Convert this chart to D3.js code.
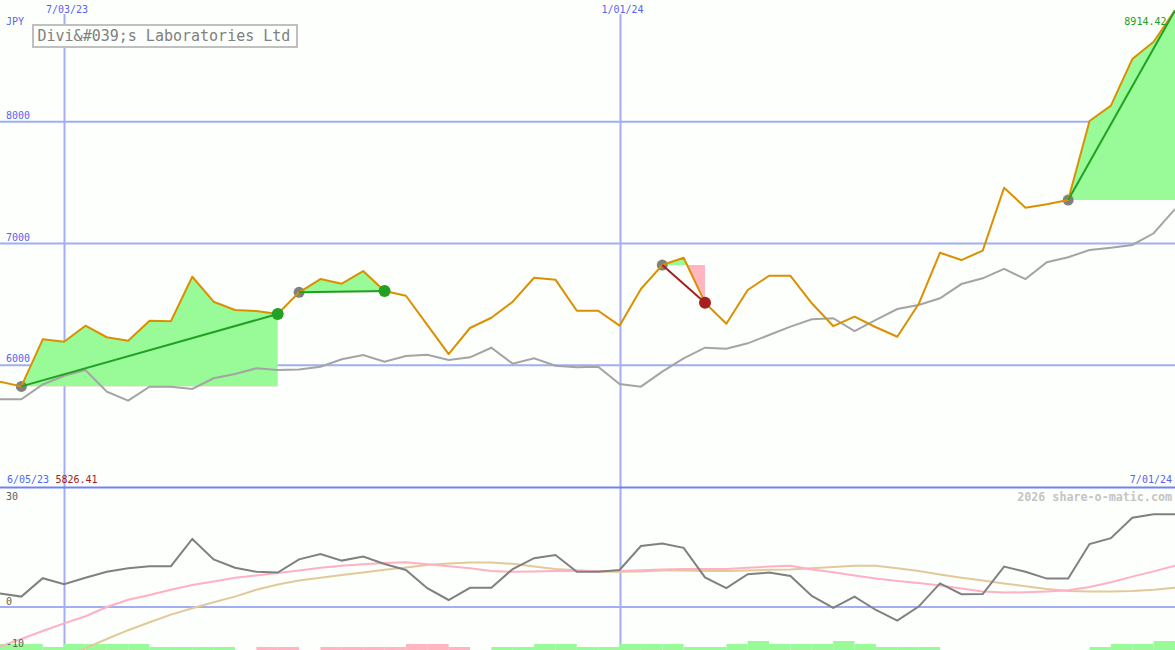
<!DOCTYPE html>
<html>
<head>
<meta charset="utf-8">
<script src="https://cdn.jsdelivr.net/npm/d3@7"></script>
<style>
  html, body { margin: 0; padding: 0; background: #fcfffc; }
  svg { display: block; }
</style>
</head>
<body>
<svg id="chart" width="1175" height="650"></svg>
<script>
// ---------- DATA ----------
const dates = [
  "2023-06-12","2023-06-19","2023-06-26","2023-07-03","2023-07-10","2023-07-17","2023-07-24","2023-07-31",
  "2023-08-07","2023-08-14","2023-08-21","2023-08-28","2023-09-04","2023-09-11","2023-09-18","2023-09-25",
  "2023-10-02","2023-10-09","2023-10-16","2023-10-23","2023-10-30","2023-11-06","2023-11-13","2023-11-20",
  "2023-11-27","2023-12-04","2023-12-11","2023-12-18","2023-12-25","2024-01-01","2024-01-08","2024-01-15",
  "2024-01-22","2024-01-29","2024-02-05","2024-02-12","2024-02-19","2024-02-26","2024-03-04","2024-03-11",
  "2024-03-18","2024-03-25","2024-04-01","2024-04-08","2024-04-15","2024-04-22","2024-04-29","2024-05-06",
  "2024-05-13","2024-05-20","2024-05-27","2024-06-03","2024-06-10","2024-06-17","2024-06-24","2024-07-01"
];
const price = [
  5865, 5826.41, 6213, 6193, 6325, 6230, 6202, 6366, 6361, 6727, 6522, 6454, 6446, 6421,
  6599, 6708, 6670, 6774, 6610, 6571, 6332, 6092, 6306, 6390, 6522, 6719, 6703, 6448,
  6448, 6325, 6626, 6823, 6883, 6514, 6341, 6618, 6735, 6735, 6509, 6322, 6399, 6312,
  6234, 6503, 6924, 6864, 6941, 7458, 7294, 7322, 7357, 8006, 8132, 8515, 8657, 8914.42
];
const movingAvg = [
  5720, 5720, 5842, 5914, 5961, 5783, 5709, 5824, 5824, 5805, 5893, 5928, 5975, 5961,
  5965, 5988, 6049, 6084, 6029, 6076, 6087, 6043, 6065, 6144, 6013, 6057, 5996, 5983,
  5988, 5846, 5824, 5947, 6057, 6144, 6136, 6180, 6248, 6317, 6377, 6386, 6281, 6372,
  6462, 6495, 6550, 6667, 6714, 6791, 6708, 6846, 6887, 6947, 6966, 6988, 7084, 7283
];
const oscillator = [
  3.4, 2.6, 7.2, 5.7, 7.3, 8.8, 9.7, 10.2, 10.2, 17.0, 11.9, 9.8, 8.8, 8.6,
  11.9, 13.25, 11.6, 12.6, 10.75, 9.25, 4.7, 1.75, 4.8, 4.8, 9.5, 12.2, 13.0, 8.8,
  8.8, 9.25, 15.25, 15.9, 14.8, 7.4, 4.7, 8.2, 8.6, 7.75, 2.75, -0.2, 2.6, -0.75,
  -3.4, 0.1, 5.9, 3.2, 3.25, 10.1, 8.8, 7.1, 7.1, 15.75, 17.2, 22.3, 23.2, 23.2
];
const oscFast = [
  -9.9, -8.0, -6.0, -4.1, -2.3, 0.0, 1.8, 3.0, 4.3, 5.5, 6.4, 7.3, 7.9, 8.5,
  9.1, 9.8, 10.3, 10.7, 11.0, 11.2, 10.7, 10.2, 9.7, 9.0, 8.8, 8.9, 9.0, 9.0,
  9.0, 9.0, 9.2, 9.4, 9.5, 9.5, 9.5, 9.8, 10.1, 10.3, 9.4, 8.7, 7.9, 7.1,
  6.5, 6.0, 5.4, 4.6, 3.9, 3.6, 3.7, 3.9, 4.2, 5.0, 6.2, 7.6, 8.9, 10.3
];
const oscSlow = [
  -19.0, -17.0, -14.8, -12.5, -10.3, -8.0, -5.8, -3.8, -1.9, -0.3, 1.2, 2.6, 4.3, 5.6,
  6.6, 7.3, 8.0, 8.6, 9.3, 9.9, 10.5, 10.9, 11.1, 11.1, 10.8, 10.1, 9.5, 9.2,
  8.9, 8.8, 8.9, 9.1, 9.1, 9.0, 9.0, 9.1, 9.3, 9.4, 9.7, 10.0, 10.3, 10.3,
  9.7, 9.0, 8.1, 7.3, 6.6, 5.9, 5.2, 4.5, 4.0, 3.9, 3.9, 4.0, 4.3, 4.8
];
const volumeLevel = [
  2, 2, 1, 2, 2, 2, 2, 1, 1, 1, 1, 0, -1, -1,
  0, -1, -1, -1, -1, -2, -2, -1, 0, 1, 1, 2, 2, 1,
  1, 2, 2, 2, 1, 1, 2, 3, 2, 2, 2, 3, 2, 1,
  1, 1, 0, 0, 0, 0, 0, 0, 0, 1, 2, 2, 3, 3
];
const tradeEntry = [1, 14, 31, 50];
const tradeExit = [13, 18, 33, 55];
const tradeOpen = [false, false, false, true];

const priceTicks = [6000, 7000, 8000];
const oscTicks = [30, 0, -10];
const dateTicks = ["2023-07-03", "2024-01-01"];
const dateTickLabels = ["7/03/23", "1/01/24"];
const title = "Divi&#039;s Laboratories Ltd";
const currency = "JPY";
const startLabel = "6/05/23";
const startPrice = "5826.41";
const endLabel = "7/01/24";
const lastPriceLabel = "8914.42";
const watermark = "2026 share-o-matic.com";

// ---------- SETUP ----------
const W = 1175, H = 650, splitY = 487;
const parse = d3.timeParse("%Y-%m-%d");
const dts = dates.map(parse);
const x = d3.scaleTime().domain([parse("2023-06-12"), parse("2024-07-01")]).range([0, 1175]);
const y = d3.scaleLinear().domain([5000, 9000]).range([splitY, 0]);
const y2 = d3.scaleLinear().domain([-10, 30]).range([647, 487]);
const yb = d3.scaleLinear().domain([0, 3]).range([650, 641]);

const mono = "'DejaVu Sans Mono', 'Liberation Mono', monospace";
const GRID = "#a3aef2", SEP = "#7383ee", TICK = "#5565ee";
const ORANGE = "#da9000", AVG = "#a4a4a4", GREEN = "#22a022", RED = "#a52020";
const FILL_G = "#98fb98", FILL_R = "#ffb6c1";

const svg = d3.select("#chart");
const defs = svg.append("defs");
defs.append("clipPath").attr("id", "clipMain").append("rect")
  .attr("x", 0).attr("y", 0).attr("width", W).attr("height", splitY);
defs.append("clipPath").attr("id", "clipLow").append("rect")
  .attr("x", 0).attr("y", splitY + 1).attr("width", W).attr("height", H - splitY - 1);

svg.append("rect").attr("width", W).attr("height", H).attr("fill", "#fcfffc");

// ---------- GRID ----------
const grid = svg.append("g");
grid.selectAll("line.h").data(priceTicks).join("line")
  .attr("x1", 0).attr("x2", W)
  .attr("y1", d => y(d)).attr("y2", d => y(d))
  .attr("stroke", GRID).attr("stroke-width", 2);
grid.selectAll("line.v").data(dateTicks).join("line")
  .attr("x1", d => Math.round(x(parse(d))) + 0.5).attr("x2", d => Math.round(x(parse(d))) + 0.5)
  .attr("y1", 14).attr("y2", H)
  .attr("stroke", GRID).attr("stroke-width", 2);
grid.append("line")
  .attr("x1", 0).attr("x2", W).attr("y1", y2(0)).attr("y2", y2(0))
  .attr("stroke", GRID).attr("stroke-width", 2);

// ---------- TRADE FILLS ----------
const main = svg.append("g").attr("clip-path", "url(#clipMain)");
tradeEntry.forEach((s, t) => {
  const e = tradeExit[t];
  const base = price[s];
  const seg = d3.range(s, e + 1);
  const area = d3.area()
    .x(i => x(dts[i]))
    .y0(y(base))
    .y1(i => y(price[i]));
  const cg = "clipUp" + t, cr = "clipDn" + t;
  defs.append("clipPath").attr("id", cg).append("rect")
    .attr("x", 0).attr("y", 0).attr("width", W).attr("height", y(base));
  defs.append("clipPath").attr("id", cr).append("rect")
    .attr("x", 0).attr("y", y(base)).attr("width", W).attr("height", splitY - y(base));
  main.append("path").datum(seg).attr("d", area).attr("fill", FILL_G).attr("clip-path", `url(#${cg})`);
  main.append("path").datum(seg).attr("d", area).attr("fill", FILL_R).attr("clip-path", `url(#${cr})`);
});

// ---------- PRICE LINES ----------
const idx = d3.range(dates.length);
const lineP = d3.line().x(i => x(dts[i])).y(i => y(price[i]));
const lineA = d3.line().x(i => x(dts[i])).y(i => y(movingAvg[i]));
main.append("path").datum(idx).attr("d", lineA).attr("fill", "none")
  .attr("stroke", AVG).attr("stroke-width", 2);

// entry dots
main.selectAll("circle.entry").data(tradeEntry).join("circle")
  .attr("cx", i => x(dts[i])).attr("cy", i => y(price[i])).attr("r", 5.5)
  .attr("fill", "#808080");

main.append("path").datum(idx).attr("d", lineP).attr("fill", "none")
  .attr("stroke", ORANGE).attr("stroke-width", 2).attr("stroke-linejoin", "round");

// trade lines and exit dots
tradeEntry.forEach((s, t) => {
  const e = tradeExit[t];
  const win = price[e] >= price[s];
  const col = win ? GREEN : RED;
  main.append("line")
    .attr("x1", x(dts[s])).attr("y1", y(price[s]))
    .attr("x2", x(dts[e])).attr("y2", y(price[e]))
    .attr("stroke", col).attr("stroke-width", 2);
  if (!tradeOpen[t]) {
    main.append("circle").attr("cx", x(dts[e])).attr("cy", y(price[e])).attr("r", 6)
      .attr("fill", col);
  }
});

// ---------- LOWER PANEL ----------
const low = svg.append("g").attr("clip-path", "url(#clipLow)");
const step = x(dts[1]) - x(dts[0]);
low.selectAll("rect.vol").data(idx.filter(i => volumeLevel[i] !== 0)).join("rect")
  .attr("x", i => x(dts[i]))
  .attr("width", i => (i + 1 < dts.length ? x(dts[i + 1]) : x(dts[i]) + step) - x(dts[i]))
  .attr("y", i => yb(Math.abs(volumeLevel[i])))
  .attr("height", i => yb(0) - yb(Math.abs(volumeLevel[i])))
  .attr("fill", i => volumeLevel[i] > 0 ? FILL_G : FILL_R);

const mkLine = arr => d3.line().x(i => x(dts[i])).y(i => y2(arr[i]));
low.append("path").datum(idx).attr("d", mkLine(oscSlow)).attr("fill", "none")
  .attr("stroke", "#e3c99a").attr("stroke-width", 2);
low.append("path").datum(idx).attr("d", mkLine(oscFast)).attr("fill", "none")
  .attr("stroke", "#ffb0c4").attr("stroke-width", 2);
low.append("path").datum(idx).attr("d", mkLine(oscillator)).attr("fill", "none")
  .attr("stroke", "#808080").attr("stroke-width", 2);

// separator
svg.append("line").attr("x1", 0).attr("x2", W).attr("y1", splitY + 0.5).attr("y2", splitY + 0.5)
  .attr("stroke", SEP).attr("stroke-width", 2);

// ---------- TEXT ----------
const txt = svg.append("g").attr("font-family", mono).attr("font-size", 10);
txt.selectAll("text.pt").data(priceTicks).join("text")
  .attr("x", 6).attr("y", d => y(d) - 3).attr("fill", TICK).text(d => d);
txt.append("text").attr("x", 6).attr("y", 25).attr("fill", TICK).text(currency);
txt.selectAll("text.dt").data(dateTicks).join("text")
  .attr("x", (d) => x(parse(d)) + 3).attr("y", 13).attr("text-anchor", "middle")
  .attr("fill", TICK).text((d, i) => dateTickLabels[i]);
txt.append("text").attr("x", 7).attr("y", 482.5).attr("fill", TICK).text(startLabel);
txt.append("text").attr("x", 55.5).attr("y", 482.5).attr("fill", "#a02020").text(startPrice);
txt.append("text").attr("x", 1172).attr("y", 482.5).attr("text-anchor", "end").attr("fill", TICK).text(endLabel);
txt.append("text").attr("x", 1166.5).attr("y", 25).attr("text-anchor", "end").attr("fill", GREEN).text(lastPriceLabel);
const oscLabelY = {"30": 499.5, "0": 605, "-10": 647};
txt.selectAll("text.ot").data(oscTicks).join("text")
  .attr("x", 6).attr("y", d => oscLabelY[String(d)]).attr("fill", "#606060").text(d => d);
svg.append("text").attr("x", 1172).attr("y", 500.5).attr("text-anchor", "end")
  .attr("font-family", mono).attr("font-size", 11.7).attr("font-weight", "bold")
  .attr("fill", "#c4c4c4").text(watermark);

// title box
const tb = svg.append("g");
tb.append("rect").attr("x", 33).attr("y", 25).attr("width", 264).attr("height", 22)
  .attr("fill", "#fcfffc").attr("stroke", "#c0c0c0").attr("stroke-width", 2);
tb.append("text").attr("x", 37.5).attr("y", 41).attr("font-family", mono).attr("font-size", 15)
  .attr("fill", "#808080").text(title);
</script>
</body>
</html>
